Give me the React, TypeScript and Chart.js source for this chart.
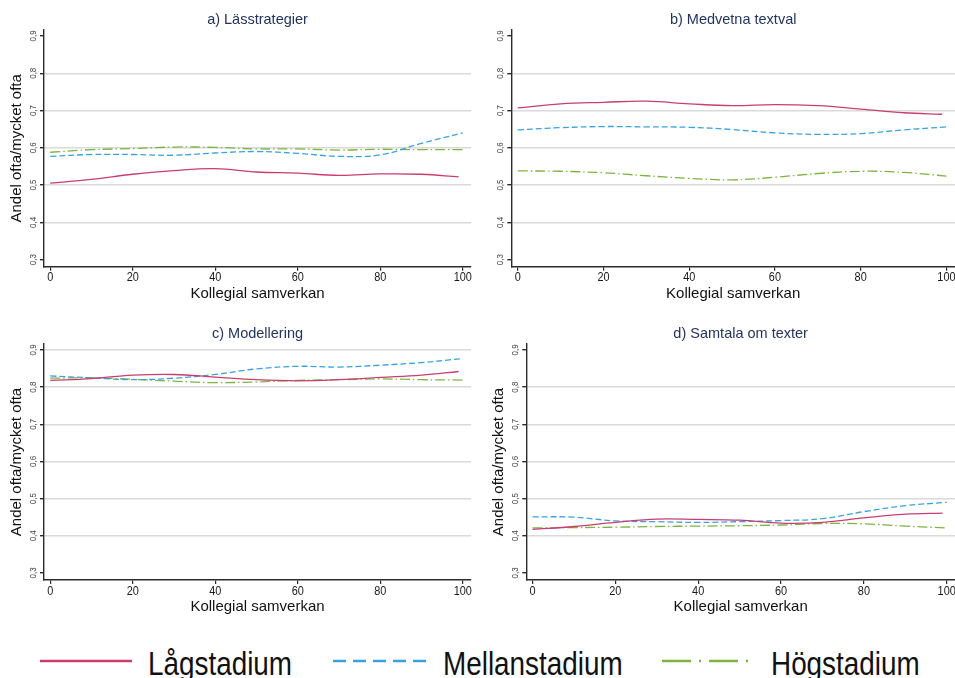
import { useEffect, useRef } from "react";
import { Chart, registerables } from "chart.js";

Chart.register(...registerables);

// Kollegial samverkan (x) sample positions; the Lågstadium curves stop just short of 100
const X_POINTS = [0, 10, 20, 30, 40, 50, 60, 70, 80, 90, 100];
const X_POINTS_LAG = [0, 10, 20, 30, 40, 50, 60, 70, 80, 90, 99];

const X_TICKS = [0, 20, 40, 60, 80, 100];
const Y_TICKS = [0.3, 0.4, 0.5, 0.6, 0.7, 0.8, 0.9];
const Y_TICK_LABELS = ["0,3", "0,4", "0,5", "0,6", "0,7", "0,8", "0,9"];

const SERIES_NAMES = ["Lågstadium", "Mellanstadium", "Högstadium"];
const PANEL_TITLES = [
  "a) Lässtrategier",
  "b) Medvetna textval",
  "c) Modellering",
  "d) Samtala om texter",
];
const X_TITLE = "Kollegial samverkan";
const Y_TITLE = "Andel ofta/mycket ofta";

// a) Lässtrategier
const LASS_LAG = [0.505, 0.515, 0.529, 0.539, 0.544, 0.535, 0.532, 0.526, 0.53, 0.529, 0.522];
const LASS_MELLAN = [0.577, 0.582, 0.582, 0.58, 0.586, 0.59, 0.585, 0.577, 0.581, 0.612, 0.64];
const LASS_HOG = [0.588, 0.595, 0.598, 0.602, 0.601, 0.597, 0.597, 0.594, 0.596, 0.595, 0.595];

// b) Medvetna textval
const TEXTVAL_LAG = [0.707, 0.718, 0.722, 0.725, 0.718, 0.713, 0.716, 0.713, 0.704, 0.694, 0.69];
const TEXTVAL_MELLAN = [0.648, 0.654, 0.657, 0.656, 0.655, 0.649, 0.64, 0.636, 0.638, 0.648, 0.656];
const TEXTVAL_HOG = [0.538, 0.537, 0.533, 0.525, 0.518, 0.514, 0.521, 0.531, 0.537, 0.534, 0.524];

// c) Modellering
const MODELL_LAG = [0.818, 0.823, 0.832, 0.834, 0.827, 0.82, 0.817, 0.82, 0.826, 0.832, 0.842];
const MODELL_MELLAN = [0.83, 0.825, 0.82, 0.824, 0.834, 0.849, 0.856, 0.854, 0.859, 0.866, 0.877];
const MODELL_HOG = [0.824, 0.825, 0.821, 0.816, 0.812, 0.814, 0.818, 0.82, 0.822, 0.82, 0.819];

// d) Samtala om texter
const SAMTAL_LAG = [0.417, 0.425, 0.436, 0.445, 0.444, 0.442, 0.434, 0.436, 0.448, 0.458, 0.461];
const SAMTAL_MELLAN = [0.451, 0.45, 0.44, 0.438, 0.436, 0.438, 0.441, 0.446, 0.465, 0.481, 0.49];
const SAMTAL_HOG = [0.421, 0.422, 0.423, 0.425, 0.426, 0.427, 0.429, 0.433, 0.432, 0.426, 0.421];

const RED = "#c83e6e";
const BLUE = "#3ba2e2";
const GREEN = "#7db443";
const AXIS = "#2b2b2b";
const GRID = "#dadada";
const TITLE_COLOR = "#24345f";
const FONT = '"Liberation Sans", Arial, sans-serif';

const X_MIN = -1.5;
const X_MAX = 102;
const Y_MIN = 0.281;
const Y_MAX = 0.916;

type Area = { left: number; top: number; right: number; bottom: number };
type Panel = {
  title: string;
  lag: number[];
  mellan: number[];
  hog: number[];
  left: number;
  top: number;
  width: number;
  height: number;
  area: Area;
  showYTitle: boolean;
  gridValues: number[];
};

const PANELS: Panel[] = [
  {
    title: PANEL_TITLES[0], lag: LASS_LAG, mellan: LASS_MELLAN, hog: LASS_HOG,
    left: 0, top: 0, width: 477, height: 310,
    area: { left: 44, top: 30, right: 471, bottom: 266.7 },
    showYTitle: true, gridValues: [0.4, 0.5, 0.6, 0.7, 0.8],
  },
  {
    title: PANEL_TITLES[1], lag: TEXTVAL_LAG, mellan: TEXTVAL_MELLAN, hog: TEXTVAL_HOG,
    left: 477, top: 0, width: 478, height: 310,
    area: { left: 34.3, top: 30, right: 478, bottom: 266.7 },
    showYTitle: false, gridValues: [0.4, 0.5, 0.6, 0.7, 0.8],
  },
  {
    title: PANEL_TITLES[2], lag: MODELL_LAG, mellan: MODELL_MELLAN, hog: MODELL_HOG,
    left: 0, top: 310, width: 477, height: 310,
    area: { left: 44, top: 34, right: 471, bottom: 270 },
    showYTitle: true, gridValues: [0.4, 0.5, 0.6, 0.7, 0.8, 0.9],
  },
  {
    title: PANEL_TITLES[3], lag: SAMTAL_LAG, mellan: SAMTAL_MELLAN, hog: SAMTAL_HOG,
    left: 477, top: 310, width: 478, height: 310,
    area: { left: 49.3, top: 34, right: 478, bottom: 270 },
    showYTitle: true, gridValues: [0.4, 0.5, 0.6, 0.7, 0.8],
  },
];

// Draws text squeezed horizontally, giving a narrow sans face
function narrowText(
  ctx: CanvasRenderingContext2D,
  text: string,
  x: number,
  y: number,
  size: number,
  rotation = 0
) {
  ctx.save();
  ctx.translate(x, y);
  if (rotation) ctx.rotate(rotation);
  ctx.scale(0.84, 1);
  ctx.font = `${size}px ${FONT}`;
  ctx.fillText(text, 0, 0);
  ctx.restore();
}

function panelTextPlugin(panel: Panel) {
  return {
    id: "panelText",
    afterDraw(chart: any) {
      const { ctx, chartArea: ca, scales } = chart;
      const xs = scales.x;
      const ys = scales.y;
      ctx.save();
      ctx.textAlign = "center";
      ctx.textBaseline = "middle";

      // panel title
      ctx.fillStyle = TITLE_COLOR;
      ctx.font = `14.5px ${FONT}`;
      ctx.fillText(panel.title, (ca.left + ca.right) / 2, ca.top - 10);

      // x tick labels
      ctx.fillStyle = "#1a1a1a";
      X_TICKS.forEach((v) => {
        narrowText(ctx, String(v), xs.getPixelForValue(v), ca.bottom + 11, 13);
      });

      // x title
      ctx.fillStyle = "#111";
      ctx.font = `15px ${FONT}`;
      ctx.fillText(X_TITLE, (ca.left + ca.right) / 2, ca.bottom + 27);

      // y tick labels, reading upwards
      ctx.fillStyle = "#444";
      Y_TICKS.forEach((v, i) => {
        narrowText(ctx, Y_TICK_LABELS[i], ca.left - 11, ys.getPixelForValue(v), 9.5, -Math.PI / 2);
      });

      // y title
      if (panel.showYTitle) {
        ctx.fillStyle = "#111";
        ctx.save();
        ctx.translate(ca.left - 27, (ca.top + ca.bottom) / 2);
        ctx.rotate(-Math.PI / 2);
        ctx.font = `15px ${FONT}`;
        ctx.fillText(Y_TITLE, 0, 0);
        ctx.restore();
      }
      ctx.restore();
    },
  };
}

function buildConfig(panel: Panel): any {
  const { area, width, height } = panel;
  const toPoints = (xs: number[], ys: number[]) => xs.map((x, i) => ({ x, y: ys[i] }));
  const lineBase = { pointRadius: 0, borderWidth: 1.3, tension: 0.4, fill: false };
  return {
    type: "line",
    data: {
      datasets: [
        { ...lineBase, label: SERIES_NAMES[0], data: toPoints(X_POINTS_LAG, panel.lag), borderColor: RED },
        { ...lineBase, label: SERIES_NAMES[1], data: toPoints(X_POINTS, panel.mellan), borderColor: BLUE, borderDash: [6, 3] },
        { ...lineBase, label: SERIES_NAMES[2], data: toPoints(X_POINTS, panel.hog), borderColor: GREEN, borderDash: [10, 3, 1.5, 3] },
      ],
    },
    options: {
      animation: false,
      responsive: false,
      maintainAspectRatio: false,
      events: [],
      layout: { padding: { top: area.top, right: width - area.right, bottom: 0, left: 0 } },
      plugins: {
        legend: { display: false },
        title: { display: false },
        tooltip: { enabled: false },
      },
      scales: {
        x: {
          type: "linear",
          min: X_MIN,
          max: X_MAX,
          afterBuildTicks: (s: any) => {
            s.ticks = X_TICKS.map((value) => ({ value }));
          },
          afterFit: (s: any) => {
            s.height = height - area.bottom;
          },
          ticks: { display: false },
          grid: {
            drawOnChartArea: false,
            color: "rgba(0,0,0,0)",
            tickColor: AXIS,
            tickLength: 4,
            lineWidth: 1.2,
          },
          border: { display: true, color: AXIS, width: 1.4 },
        },
        y: {
          type: "linear",
          min: Y_MIN,
          max: Y_MAX,
          afterBuildTicks: (s: any) => {
            s.ticks = Y_TICKS.map((value) => ({ value }));
          },
          afterFit: (s: any) => {
            s.width = area.left;
          },
          ticks: { display: false },
          grid: {
            color: (c: any) =>
              panel.gridValues.some((g) => Math.abs(g - c.tick?.value) < 1e-6) ? GRID : "rgba(0,0,0,0)",
            tickColor: AXIS,
            tickLength: 4,
            lineWidth: 1.4,
          },
          border: { display: true, color: AXIS, width: 1.4 },
        },
      },
    },
    plugins: [panelTextPlugin(panel)],
  };
}

function PanelChart({ panel }: { panel: Panel }) {
  const ref = useRef<HTMLCanvasElement>(null);
  useEffect(() => {
    const chart = new Chart(ref.current as HTMLCanvasElement, buildConfig(panel));
    return () => chart.destroy();
  }, [panel]);
  return (
    <canvas
      ref={ref}
      width={panel.width}
      height={panel.height}
      style={{
        position: "absolute",
        left: panel.left,
        top: panel.top,
        width: panel.width,
        height: panel.height,
        display: "block",
      }}
    />
  );
}

function Legend() {
  const items = [
    { name: SERIES_NAMES[0], color: RED, dash: "", x1: 40, x2: 132, tx: 148 },
    { name: SERIES_NAMES[1], color: BLUE, dash: "13 7", x1: 333, x2: 428, tx: 443 },
    { name: SERIES_NAMES[2], color: GREEN, dash: "29 8 2 8", x1: 662, x2: 755, tx: 771 },
  ];
  return (
    <svg
      width={955}
      height={58}
      style={{ position: "absolute", left: 0, top: 620, display: "block" }}
    >
      {items.map((it) => (
        <g key={it.name}>
          <line
            x1={it.x1}
            x2={it.x2}
            y1={41}
            y2={41}
            stroke={it.color}
            strokeWidth={2.6}
            strokeDasharray={it.dash || undefined}
          />
          <text
            transform={`translate(${it.tx},55) scale(0.82,1)`}
            fontFamily={FONT}
            fontSize={34}
            fill="#111"
          >
            {it.name}
          </text>
        </g>
      ))}
    </svg>
  );
}

export default function App() {
  return (
    <div
      style={{
        position: "absolute",
        left: 0,
        top: 0,
        width: 955,
        height: 678,
        background: "#ffffff",
        overflow: "hidden",
      }}
    >
      {PANELS.map((p) => (
        <PanelChart key={p.title} panel={p} />
      ))}
      <Legend />
    </div>
  );
}
